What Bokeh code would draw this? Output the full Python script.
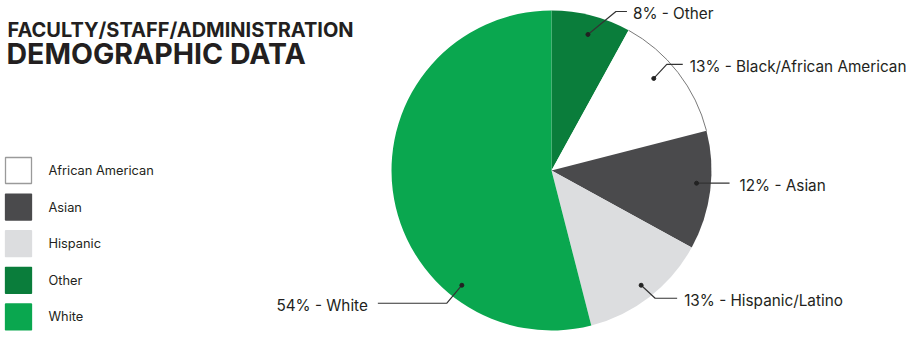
import math
from bokeh.plotting import figure
from bokeh.models import Range1d, ColumnDataSource
from bokeh.core.properties import value
from bokeh.embed import file_html
from bokeh.resources import INLINE

# ---- data ----
slice_names = ["Other", "Black/African American", "Asian", "Hispanic/Latino", "White"]
slice_pcts = [8, 13, 12, 13, 54]
slice_colors = ["#0a7d3b", "#ffffff", "#4a4a4c", "#dcdddf", "#0aa74f"]

legend_labels = ["African American", "Asian", "Hispanic", "Other", "White"]
legend_colors = ["#ffffff", "#4a4a4c", "#dcdddf", "#0a7d3b", "#0aa74f"]
legend_borders = ["#9a9a9a", "#4a4a4c", "#dcdddf", "#0a7d3b", "#0aa74f"]

title_line1 = "FACULTY/STAFF/ADMINISTRATION"
title_line2 = "DEMOGRAPHIC DATA"

# ---- layout ----
W, H = 916, 341
def sy(y):
    return H - y

CX, CY, R = 551, sy(170), 160
FONT = "Inter"
TXT = "#231f20"

p = figure(width=W, height=H, x_range=Range1d(0, W), y_range=Range1d(0, H),
           min_border=0, toolbar_location=None, output_backend="svg",
           x_axis_location=None, y_axis_location=None)
p.grid.visible = False
p.outline_line_color = None
p.background_fill_color = "white"

# pie wedges, clockwise from 12 o'clock
total = float(sum(slice_pcts))
starts, ends = [], []
c = 0.0
for v in slice_pcts:
    starts.append(math.pi / 2 - 2 * math.pi * c / total)
    c += v
    ends.append(math.pi / 2 - 2 * math.pi * c / total)

src = ColumnDataSource(dict(x=[CX] * len(slice_pcts), y=[CY] * len(slice_pcts),
                            start=starts, end=ends, color=slice_colors))
p.wedge(x="x", y="y", radius=R, start_angle="start", end_angle="end",
        direction="clock", fill_color="color", line_color=None, source=src)
# thin grey edge on the white slice
wi = slice_names.index("Black/African American")
p.arc(x=CX, y=CY, radius=R, start_angle=starts[wi], end_angle=ends[wi],
      direction="clock", line_color="#7a7a7a", line_width=1)

# labels with leader lines (anchor angle in degrees from top, clockwise; radius fraction)
anchor_deg = [15, 48, 95, 142, 218]
anchor_rf = [0.88, 0.86, 0.91, 0.91, 0.91]
elbow_dx = [28, 13, 0, 14, -15]
elbow_dy = [-23, -14, 0, 13, 18]
end_dx = [11, 16, 33, 22, -69]
label_gap = [6, 7, 10, 7, -10]

for name, pct, a, rf, edx, edy, ex, gap in zip(slice_names, slice_pcts, anchor_deg, anchor_rf,
                                                elbow_dx, elbow_dy, end_dx, label_gap):
    ang = math.radians(a)
    dx = CX + rf * R * math.sin(ang)
    dy = CY + rf * R * math.cos(ang)
    exx, eyy = dx + edx, dy - edy
    fx = exx + ex
    p.line([dx, exx, fx], [dy, eyy, eyy], line_color="#333333", line_width=1.2)
    p.scatter([dx], [dy], size=4, color="#222222")
    p.text(x=[fx + gap], y=[eyy - 2], text=[f"{pct}% - {name}"],
           text_font=value(FONT), text_font_size="15.3px", text_color=TXT,
           text_align="left" if gap > 0 else "right", text_baseline="middle")

# title
p.text(x=[7], y=[sy(29)], text=[title_line1], text_font=value(FONT), text_font_style="bold",
       text_font_size="20px", text_color=TXT, text_baseline="middle")
p.text(x=[6], y=[sy(53)], text=[title_line2], text_font=value(FONT), text_font_style="bold",
       text_font_size="28.5px", text_color=TXT, text_baseline="middle")

# legend
LEG_TOP, LEG_STEP, LEG_SIZE = 170, 36.6, 26
ly = [sy(LEG_TOP + i * LEG_STEP) for i in range(len(legend_labels))]
p.rect(x=[18] * len(ly), y=ly, width=LEG_SIZE, height=LEG_SIZE,
       fill_color=legend_colors, line_color=legend_borders, line_width=1.3)
p.text(x=[48] * len(ly), y=ly, text=legend_labels, text_font=value(FONT),
       text_font_size="12.8px", text_color=TXT, text_baseline="middle")

open("out.html", "w").write(file_html(p, INLINE))
